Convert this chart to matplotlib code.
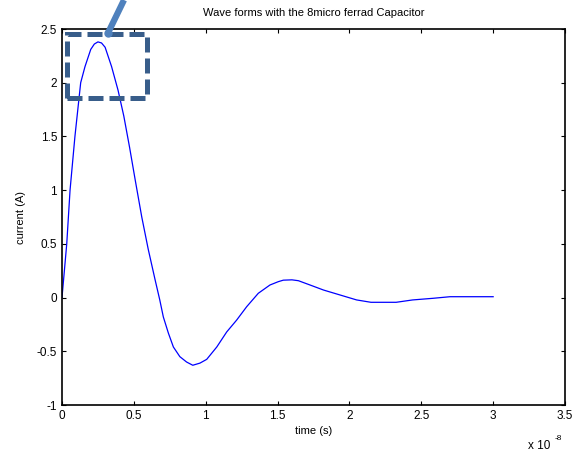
import matplotlib
matplotlib.use("Agg")
import matplotlib.pyplot as plt
from matplotlib.patches import Rectangle
from matplotlib.lines import Line2D

plt.rcParams['font.family'] = ['Liberation Sans', 'DejaVu Sans']

# 전류 파형 (time x 1e-8 s, current A)
time_s = [0.0, 0.033, 0.056, 0.09, 0.13, 0.16, 0.20, 0.225, 0.25, 0.275, 0.30,
          0.345, 0.39, 0.43, 0.47, 0.51, 0.555, 0.60, 0.647, 0.68, 0.705,
          0.74, 0.775, 0.82, 0.867, 0.91, 0.96, 1.007, 1.077, 1.146, 1.215,
          1.285, 1.366, 1.447, 1.505, 1.54, 1.60, 1.645, 1.726, 1.82, 1.92,
          2.05, 2.15, 2.325, 2.44, 2.58, 2.70, 3.0]
current_a = [0.0, 0.5, 1.0, 1.5, 2.0, 2.15, 2.31, 2.36, 2.38, 2.37, 2.33,
             2.15, 1.93, 1.69, 1.40, 1.09, 0.75, 0.45, 0.17, -0.02, -0.18,
             -0.33, -0.46, -0.55, -0.60, -0.63, -0.61, -0.575, -0.46, -0.32, -0.21,
             -0.085, 0.04, 0.117, 0.148, 0.162, 0.165, 0.157, 0.117, 0.07, 0.03,
             -0.022, -0.044, -0.044, -0.022, -0.007, 0.008, 0.008]

x_ticks = [0, 0.5, 1, 1.5, 2, 2.5, 3, 3.5]
y_ticks = [-1, -0.5, 0, 0.5, 1, 1.5, 2, 2.5]

fig = plt.figure(figsize=(5.74, 4.53), dpi=100)
ax = fig.add_axes([62 / 574, 48 / 453, 503 / 574, 376 / 453])

ax.plot(time_s, current_a, color='#0000ff', lw=0.9)

ax.set_xlim(0, 3.5)
ax.set_ylim(-1, 2.5)
ax.set_xticks(x_ticks)
ax.set_xticklabels([f"{v:g}" for v in x_ticks])
ax.set_yticks(y_ticks)
ax.set_yticklabels([f"{v:g}" for v in y_ticks])
ax.tick_params(direction='in', top=True, right=True, labelsize=8.5, length=3, width=0.8)
for sp in ax.spines.values():
    sp.set_linewidth(1.2)

ax.set_title("Wave forms with the 8micro ferrad Capacitor", fontsize=8, pad=9)
ax.set_xlabel("time (s)", fontsize=8, labelpad=3)
ax.set_ylabel("current (A)", fontsize=8, labelpad=8)

# 지수 표시
fig.text(528 / 574, 1 - 446 / 453, "x 10", fontsize=8.5, va='center', ha='left')
fig.text(555 / 574, 1 - 438 / 453, "-8", fontsize=6, va='center', ha='left')

# 강조 박스와 지시선
box = Rectangle((67 / 574, 1 - 98 / 453), 80 / 574, 64 / 453,
                transform=fig.transFigure, fill=False, edgecolor='#385d8a',
                lw=3.6, linestyle=(0, (3.0, 1.2)), zorder=10)
fig.add_artist(box)
pointer = Line2D([108 / 574, 124 / 574], [1 - 33 / 453, 1.0],
                 transform=fig.transFigure, color='#4f81bd', lw=4.5,
                 solid_capstyle='butt', zorder=11)
fig.add_artist(pointer)
fig.add_artist(Line2D([108 / 574], [1 - 33 / 453], transform=fig.transFigure,
                      marker='o', markersize=5, color='#4f81bd', zorder=11))

fig.savefig("out.png", dpi=100)
